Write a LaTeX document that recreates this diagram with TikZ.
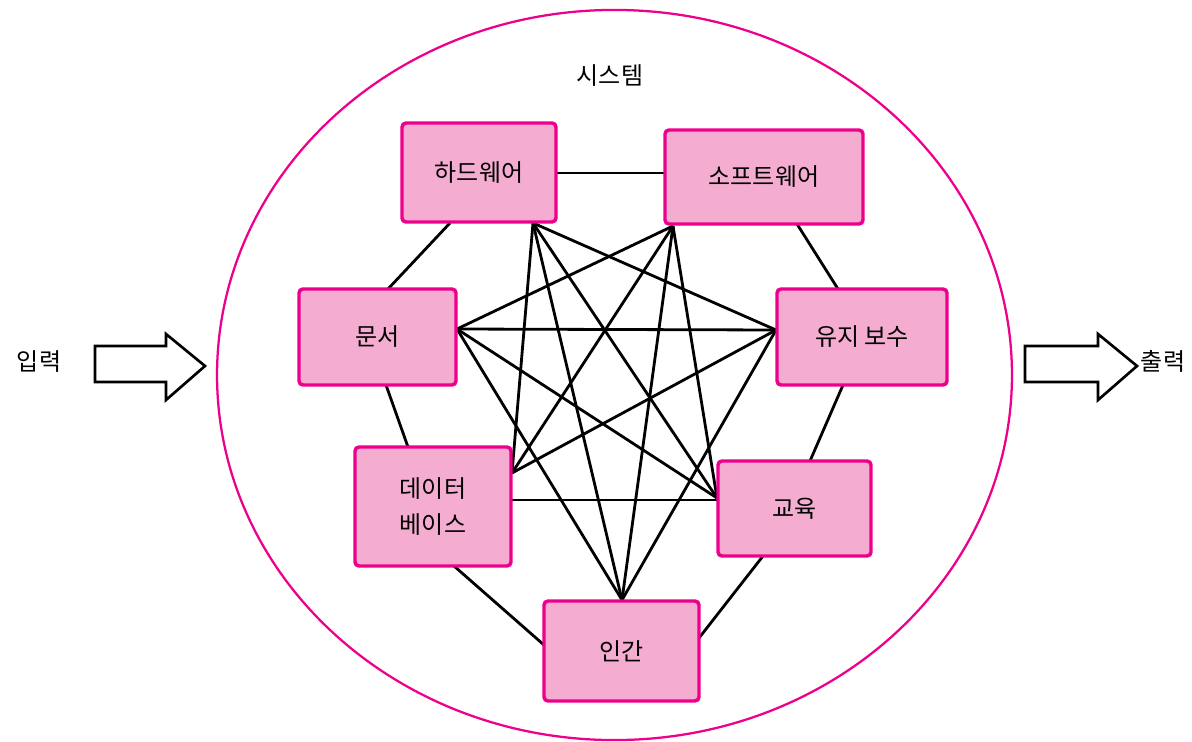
\documentclass[tikz,border=0pt]{standalone}
\usepackage{fontspec}
\newfontfamily\kr{Noto Sans CJK KR}
\definecolor{pinkline}{RGB}{236,0,140}
\definecolor{pinkfill}{RGB}{244,172,208}
\begin{document}
\begin{tikzpicture}[x=0.75pt,y=-0.75pt,
 box/.style={draw=pinkline, fill=pinkfill, line width=2.6pt, rounded corners=3pt, inner sep=0pt, font=\kr\fontsize{18}{27}\selectfont, align=center},
 lbl/.style={font=\kr\fontsize{18}{27}\selectfont, inner sep=0pt},
 link/.style={draw=black, line width=2.1pt},
 blockarrow/.style={draw=black, fill=white, line width=2pt, line join=miter}]
\useasboundingbox (0,0) rectangle (1192,742);

% system boundary
\draw[pinkline, line width=1.7pt] (614.5,375) ellipse [x radius=298.1pt, y radius=273.8pt];
\node[lbl] (sys) at (610,76) {시스템};

% input / output arrows
\draw[blockarrow] (95,346) -- (166,346) -- (166,334) -- (205,366) -- (166,400) -- (166,382) -- (95,382) -- cycle;
\draw[blockarrow] (1025,346) -- (1098,346) -- (1098,334) -- (1137,366) -- (1098,400) -- (1098,382) -- (1025,382) -- cycle;
\node[lbl] (in) at (39,362) {입력};
\node[lbl] (out) at (1163,361) {출력};

% hub coordinates
\coordinate (Hh) at (533,223);
\coordinate (Sh) at (673,226);
\coordinate (Mh) at (457,329);
\coordinate (Yh) at (776,330);
\coordinate (Dh) at (512,473);
\coordinate (Dh2) at (512,500);
\coordinate (Gh) at (717,498);
\coordinate (Gh2) at (717,500);
\coordinate (Ih) at (622,600);

% ring coordinates
\coordinate (hs1) at (556,173); \coordinate (hs2) at (665,173);
\coordinate (hm1) at (450,223); \coordinate (hm2) at (388,289);
\coordinate (md1) at (386,385); \coordinate (md2) at (408,447);
\coordinate (di1) at (454,566); \coordinate (di2) at (544,645);
\coordinate (ig1) at (699,638); \coordinate (ig2) at (763,556);
\coordinate (gy1) at (810,461); \coordinate (gy2) at (843,385);
\coordinate (ys1) at (838,289); \coordinate (ys2) at (797,224);

% ring
\draw[link] (hs1) -- (hs2);
\draw[link] (hm1) -- (hm2);
\draw[link] (md1) -- (md2);
\draw[link] (di1) -- (di2);
\draw[link] (ig1) -- (ig2);
\draw[link] (gy1) -- (gy2);
\draw[link] (ys1) -- (ys2);

% diagonals
\draw[link] (Hh) -- (Yh);
\draw[link] (Hh) -- (Dh);
\draw[link] (Hh) -- (Gh);
\draw[link] (Hh) -- (Ih);
\draw[link] (Sh) -- (Mh);
\draw[link] (Sh) -- (Dh);
\draw[link] (Sh) -- (Gh);
\draw[link] (Sh) -- (Ih);
\draw[link] (Mh) -- (Yh);
\draw[link] (Mh) -- (Gh);
\draw[link] (Mh) -- (Ih);
\draw[link] (Yh) -- (Dh);
\draw[link] (Yh) -- (Ih);
\draw[link] (Dh2) -- (Gh2);

% boxes
\node[box, minimum width=115.5pt, minimum height=74.25pt] (H) at (479,172.5) {하드웨어};
\node[box, minimum width=148.5pt, minimum height=70.5pt] (S) at (764,177) {소프트웨어};
\node[box, minimum width=117.75pt, minimum height=72pt] (M) at (377.5,337) {문서};
\node[box, minimum width=127.5pt, minimum height=72pt] (Y) at (862,337) {유지 보수};
\node[box, minimum width=117pt, minimum height=89.25pt] (D) at (433,506.5) {데이터\\베이스};
\node[box, minimum width=114.75pt, minimum height=71.25pt] (G) at (794.5,508.5) {교육};
\node[box, minimum width=116.25pt, minimum height=75pt] (I) at (621.5,651) {인간};
\end{tikzpicture}
\end{document}
